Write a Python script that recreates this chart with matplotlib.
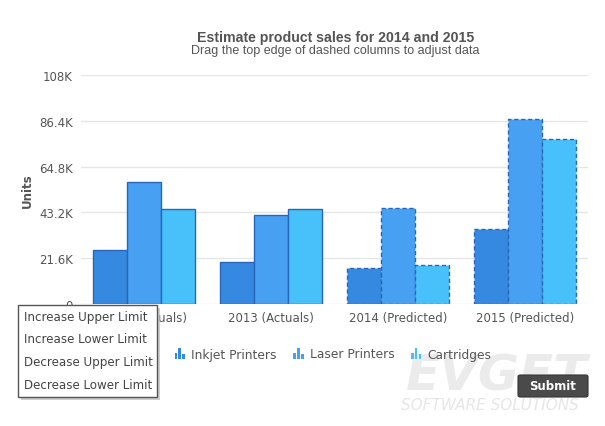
import numpy as np
import matplotlib
matplotlib.use("Agg")
import matplotlib.pyplot as plt
from matplotlib.patches import Rectangle, FancyBboxPatch
from matplotlib.legend_handler import HandlerBase
from matplotlib.ticker import FuncFormatter

categories = ["2012 (Actuals)", "2013 (Actuals)", "2014 (Predicted)", "2015 (Predicted)"]
predicted = [False, False, True, True]
series_names = ["Inkjet Printers", "Laser Printers", "Cartridges"]
inkjet = [25300, 19800, 16800, 35200]
laser = [57400, 41900, 45100, 87100]
cartridges = [44700, 44700, 18400, 77700]
y_ticks = [0, 21600, 43200, 64800, 86400, 108000]
menu_items = ["Increase Upper Limit", "Increase Lower Limit",
              "Decrease Upper Limit", "Decrease Lower Limit"]

colors = ["#3589E0", "#47A0F2", "#48C0FA"]
edge = "#2766B8"
text_col = "#555555"

W, H = 605, 427
fig = plt.figure(figsize=(W / 100, H / 100), dpi=100)
fig.patch.set_facecolor("white")


def fx(px):
    return px / W


def fy(py):
    return 1 - py / H


ax = fig.add_axes([fx(81), fy(305), fx(588) - fx(81), fy(76) - fy(305)])
x = np.arange(len(categories))
w = 0.268
legend_handles = []
for i, (vals, c) in enumerate(zip([inkjet, laser, cartridges], colors)):
    bars = ax.bar(x + (i - 1) * w, vals, width=w, color=c, edgecolor=edge,
                  linewidth=1.0, zorder=3, label=series_names[i])
    for patch, pred in zip(bars, predicted):
        if pred:
            patch.set_linestyle((0, (3, 2)))
    legend_handles.append(bars)

ax.set_xlim(-0.5, len(categories) - 0.5)
ax.set_ylim(0, 108000)
ax.set_yticks(y_ticks)


def kfmt(v, pos):
    if v == 0:
        return "0"
    s = "%.1f" % (v / 1000)
    if s.endswith(".0"):
        s = s[:-2]
    return s + "K"


ax.yaxis.set_major_formatter(FuncFormatter(kfmt))
ax.set_xticks(x)
ax.set_xticklabels(categories)
ax.grid(axis="y", color="#e6e6e6", linewidth=1, zorder=0)
for s in ax.spines.values():
    s.set_visible(False)
ax.tick_params(length=0, labelsize=8.5, colors=text_col, pad=6)
ax.tick_params(axis="x", pad=5)
ax.set_ylabel("Units", fontsize=8.5, fontweight="bold", color=text_col)
ax.yaxis.set_label_coords((34 - 81) / 507, 0.5)

fig.text(fx(336), fy(38), "Estimate product sales for 2014 and 2015", ha="center",
         va="center", fontsize=10.2, fontweight="bold", color="#555555",
         family="Liberation Sans")
fig.text(fx(335), fy(51), "Drag the top edge of dashed columns to adjust data",
         ha="center", va="center", fontsize=9, color="#555555",
         family="Liberation Sans")


class BarIconHandler(HandlerBase):
    def __init__(self, color):
        super().__init__()
        self.color = color

    def create_artists(self, legend, orig_handle, xdescent, ydescent, width,
                       height, fontsize, trans):
        arts = []
        bw = width * 0.26
        gap = width * 0.37
        for k, hf in enumerate([0.55, 1.0, 0.4]):
            r = Rectangle((-xdescent + k * gap, -ydescent), bw, height * hf,
                          facecolor=self.color, edgecolor="none", transform=trans)
            arts.append(r)
        return arts


leg = fig.legend(legend_handles, series_names, loc="center",
                 bbox_to_anchor=(fx(333), fy(355)), ncol=3, frameon=False,
                 fontsize=8.8, handlelength=0.85, handleheight=0.95,
                 handletextpad=0.5, columnspacing=1.35,
                 handler_map={legend_handles[i]: BarIconHandler(colors[i]) for i in range(3)})
for t in leg.get_texts():
    t.set_color(text_col)

# watermark
fig.text(fx(497), fy(377), "EVGET", ha="center", va="center", fontsize=36,
         fontweight="bold", style="italic", color="#ebebeb", zorder=0)
fig.text(fx(490), fy(406), "SOFTWARE SOLUTIONS", ha="center", va="center",
         fontsize=11, style="italic", color="#e6e6e6", zorder=0)

# submit button
btn = FancyBboxPatch((fx(518), fy(398)), fx(588) - fx(518), fy(376) - fy(398),
                     boxstyle="round,pad=0,rounding_size=0.004",
                     transform=fig.transFigure, facecolor="#4a4a4a",
                     edgecolor="#333333", linewidth=0.8, zorder=5)
fig.add_artist(btn)
fig.text(fx(553), fy(387), "Submit", ha="center", va="center", fontsize=8.5,
         fontweight="bold", color="white", zorder=6)

# context menu
shadow = Rectangle((fx(21), fy(401)), fx(160) - fx(21), fy(306) - fy(398),
                   transform=fig.transFigure, facecolor="#bbbbbb",
                   edgecolor="none", zorder=7, alpha=0.7)
fig.add_artist(shadow)
menu = Rectangle((fx(18), fy(398)), fx(157) - fx(18), fy(306) - fy(398),
                 transform=fig.transFigure, facecolor="white",
                 edgecolor="#555555", linewidth=1, zorder=8)
fig.add_artist(menu)
for j, item in enumerate(menu_items):
    fig.text(fx(24), fy(317 + 23 * j), item, ha="left", va="center",
             fontsize=8.6, color="#444444", zorder=9)

fig.savefig("out.png", dpi=100)
